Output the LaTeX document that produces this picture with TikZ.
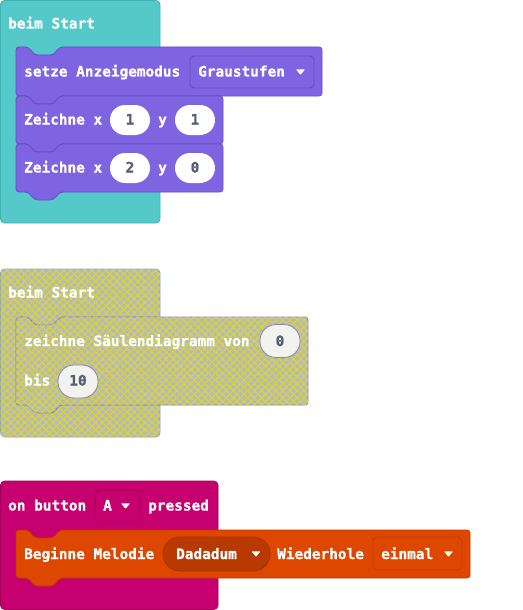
\documentclass[tikz,border=0pt]{standalone}
\usepackage{fontspec}
\setmonofont[BoldFeatures={FakeBold=0.9}]{DejaVu Sans Mono}
\usetikzlibrary{patterns.meta}

\definecolor{hatteal}{HTML}{55C9C9}
\definecolor{hattealdk}{HTML}{3FB3B3}
\definecolor{ledpurple}{HTML}{7E64E0}
\definecolor{ledpurpledk}{HTML}{654BC6}
\definecolor{inpink}{HTML}{C6006F}
\definecolor{inpinkdk}{HTML}{A0005A}
\definecolor{musorange}{HTML}{DE4700}
\definecolor{musorangedk}{HTML}{BD3C00}
\definecolor{musdrop}{HTML}{B83A00}
\definecolor{musdropdk}{HTML}{A33300}
\definecolor{offgray}{HTML}{B8B8B8}
\definecolor{offyellow}{HTML}{D6D63A}
\definecolor{offborder}{HTML}{8FA7B0}
\definecolor{offinner}{HTML}{8A80C0}
\definecolor{numgray}{HTML}{575E75}
\definecolor{numfill}{HTML}{F2F2EE}

% statement block outline with top notch and bottom tab
\newcommand\stmtpath[4]{(#1,#2) -- (#1+12,#2) -- (#1+19,#2+8) -- (#1+37,#2+8) -- (#1+44,#2) -- (#3,#2) -- (#3,#4) -- (#1+44,#4) -- (#1+37,#4+8) -- (#1+19,#4+8) -- (#1+12,#4) -- (#1,#4) -- cycle}
% small dropdown arrow centred at (x,y)
\newcommand\ddarrow[2]{\fill[white,rounded corners=0.6] (#1-4.5,#2-2.6) -- (#1+4.5,#2-2.6) -- (#1,#2+2.8) -- cycle;}

\tikzset{
  x=1pt, y=-1pt,
  lbl/.style={text=white, font=\ttfamily\bfseries\fontsize{14.4}{16}\selectfont, inner sep=0pt, anchor=base west},
  numtxt/.style={text=numgray, font=\ttfamily\bfseries\fontsize{14.4}{16}\selectfont, inner sep=0pt, anchor=base},
  oval/.style={fill=white, draw=none, rounded corners=15},
  offoval/.style={fill=numfill, draw=offinner, line width=0.8pt, rounded corners=16},
  hatch/.style={fill=offgray, postaction={pattern={Lines[angle=45,distance=5pt,line width=1.1pt]}, pattern color=offyellow},
                postaction={pattern={Lines[angle=-45,distance=5pt,line width=1.1pt]}, pattern color=offyellow}},
}

\begin{document}
\begin{tikzpicture}
\path[use as bounding box] (0,0) rectangle (522,610);

% ---------- first "beim Start" ----------
\draw[fill=hatteal, draw=hattealdk, line width=0.8pt, rounded corners=4] (0.5,0.5) rectangle (160,223);
\node[lbl] (s1) at (8,28.5) {beim Start};

\draw[fill=ledpurple, draw=ledpurpledk, line width=0.8pt, rounded corners=3] \stmtpath{16}{47}{322}{96};
\node[lbl] (mode) at (24,76.5) {setze Anzeigemodus};
\draw[fill=ledpurple, draw=ledpurpledk, line width=0.8pt, rounded corners=4] (190,56) rectangle (314,88);
\node[lbl] (gray) at (198,76.5) {Graustufen};
\ddarrow{300.5}{72}

\draw[fill=ledpurple, draw=ledpurpledk, line width=0.8pt, rounded corners=3] \stmtpath{16}{96}{223}{144};
\node[lbl] (z1) at (24,124.5) {Zeichne x};
\draw[oval] (110,105) rectangle (150,135);
\node[numtxt] (z1x) at (130,124.5) {1};
\node[lbl] (z1y) at (158,124.5) {y};
\draw[oval] (175,105) rectangle (215,135);
\node[numtxt] (z1yv) at (195,124.5) {1};

\draw[fill=ledpurple, draw=ledpurpledk, line width=0.8pt, rounded corners=3] \stmtpath{16}{144}{223}{192};
\node[lbl] (z2) at (24,172.5) {Zeichne x};
\draw[oval] (110,153) rectangle (150,183);
\node[numtxt] (z2x) at (130,172.5) {2};
\node[lbl] (z2y) at (158,172.5) {y};
\draw[oval] (175,153) rectangle (215,183);
\node[numtxt] (z2yv) at (195,172.5) {0};

% ---------- disabled "beim Start" ----------
\draw[hatch, draw=offborder, line width=0.8pt, rounded corners=4] (0.5,269) rectangle (160,437);
\node[lbl] (s2) at (8,297.5) {beim Start};

\draw[hatch, draw=offinner, line width=0.8pt, rounded corners=3] \stmtpath{16}{317}{308}{405};
\node[lbl] (bar) at (24,346) {zeichne Säulendiagramm von};
\draw[offoval] (260,324.5) rectangle (300,357.5);
\node[numtxt] (barfrom) at (280,346) {0};
\node[lbl] (bis) at (24,385.5) {bis};
\draw[offoval] (58,365) rectangle (98,398);
\node[numtxt] (barto) at (78,385.5) {10};

% ---------- "on button A pressed" ----------
\draw[fill=inpink, draw=inpinkdk, line width=0.6pt, rounded corners=4] (0.5,481) rectangle (218,609.5);
\node[lbl] (onbtn) at (8,510.5) {on button};
\draw[fill=inpink, draw=inpinkdk, line width=0.8pt, rounded corners=4] (95,490) rectangle (140,522);
\node[lbl] (btnA) at (103,510.5) {A};
\ddarrow{125.5}{506}
\node[lbl] (pressed) at (148,510.5) {pressed};

\draw[fill=musorange, draw=musorangedk, line width=0.8pt, rounded corners=3] \stmtpath{16}{530}{470}{578};
\node[lbl] (melody) at (24,559) {Beginne Melodie};
\draw[fill=musdrop, draw=musdropdk, line width=0.8pt, rounded corners=17] (163,537) rectangle (270,571);
\node[lbl] (dadadum) at (176,559) {Dadadum};
\ddarrow{256}{554}
\node[lbl] (repeat) at (277,559) {Wiederhole};
\draw[fill=musorange, draw=musorangedk, line width=0.8pt, rounded corners=4] (373,537) rectangle (462,570);
\node[lbl] (once) at (381,559) {einmal};
\ddarrow{448.5}{554}
\end{tikzpicture}
\end{document}
